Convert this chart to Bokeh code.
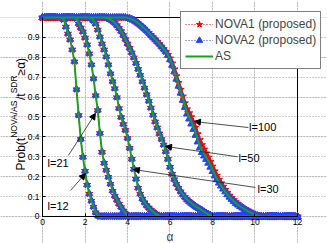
import numpy as np
from bokeh.plotting import figure
from bokeh.models import (ColumnDataSource, Legend, LegendItem, Label, Arrow,
                          NormalHead, FixedTicker, Range1d, LinearAxis,
                          BoxAnnotation, Grid)
from bokeh.embed import file_html
from bokeh.resources import INLINE

# ---------------- data ----------------
# alpha grid: 0 .. 12, step 0.1 (121 points)
alpha = np.round(np.arange(121) * 0.1, 1)
x_ticks = [0, 2, 4, 6, 8, 10, 12]
y_ticks = [0, 0.1, 0.2, 0.3, 0.4, 0.5, 0.6, 0.7, 0.8, 0.9]

# each curve: value 1 before its start alpha, the listed values, then 0
start_l12 = 1.0
as_l12 = [0.99, 0.955, 0.92, 0.89, 0.84, 0.78, 0.64, 0.51, 0.39, 0.30, 0.23,
          0.16, 0.115, 0.08, 0.05, 0.022, 0.006]

start_l21 = 1.6
as_l21 = [0.995, 0.97, 0.95, 0.93, 0.90, 0.865, 0.82, 0.765, 0.695, 0.61,
          0.535, 0.42, 0.325, 0.27, 0.235, 0.20, 0.165, 0.13, 0.105, 0.085,
          0.065, 0.048, 0.031, 0.016, 0.006]

start_l30 = 2.3
as_l30 = [0.995, 0.985, 0.97, 0.94, 0.905, 0.87, 0.84, 0.805, 0.765, 0.72,
          0.68, 0.645, 0.60, 0.545, 0.50, 0.465, 0.435, 0.395, 0.345, 0.29,
          0.24, 0.19, 0.145, 0.115, 0.09, 0.072, 0.057, 0.045, 0.034, 0.024,
          0.015, 0.008, 0.003]

start_l50 = 3.0
as_l50 = [0.998, 0.995, 0.99, 0.983, 0.974, 0.962, 0.948, 0.932, 0.912, 0.892,
          0.87, 0.848, 0.825, 0.80, 0.772, 0.742, 0.712, 0.68, 0.648, 0.615,
          0.582, 0.548, 0.512, 0.478, 0.448, 0.418, 0.39, 0.362, 0.328, 0.29,
          0.25, 0.215, 0.188, 0.165, 0.145, 0.127, 0.112, 0.098, 0.086, 0.076,
          0.067, 0.059, 0.051, 0.044, 0.038, 0.031, 0.024, 0.017, 0.011, 0.006,
          0.002]

start_l100 = 4.0
as_l100 = [0.998, 0.995, 0.991, 0.986, 0.979, 0.971, 0.962, 0.953, 0.944, 0.934,
           0.923, 0.912, 0.901, 0.89, 0.879, 0.867, 0.855, 0.842, 0.829, 0.813,
           0.792, 0.765, 0.733, 0.698, 0.663, 0.628, 0.593, 0.558, 0.525, 0.50,
           0.478, 0.452, 0.422, 0.387, 0.356, 0.333, 0.315, 0.298, 0.279, 0.258,
           0.235, 0.212, 0.191, 0.172, 0.156, 0.14, 0.125, 0.111, 0.098, 0.087,
           0.077, 0.067, 0.059, 0.051, 0.044, 0.037, 0.031, 0.025, 0.019, 0.014,
           0.009, 0.005, 0.002, 0.0]
nova1_l100 = [0.998, 0.995, 0.991, 0.986, 0.979, 0.971, 0.962, 0.953, 0.944, 0.934,
              0.923, 0.912, 0.901, 0.89, 0.879, 0.867, 0.855, 0.842, 0.829, 0.813,
              0.795, 0.77, 0.74, 0.706, 0.672, 0.638, 0.604, 0.57, 0.54, 0.52,
              0.50, 0.475, 0.448, 0.415, 0.385, 0.36, 0.338, 0.318, 0.297, 0.275,
              0.252, 0.228, 0.206, 0.186, 0.168, 0.151, 0.135, 0.12, 0.106, 0.094,
              0.083, 0.072, 0.063, 0.055, 0.047, 0.04, 0.033, 0.027, 0.021, 0.015,
              0.01, 0.006, 0.003, 0.0]
nova2_l100 = [0.998, 0.995, 0.991, 0.986, 0.979, 0.971, 0.962, 0.953, 0.944, 0.934,
              0.923, 0.912, 0.901, 0.89, 0.879, 0.867, 0.855, 0.842, 0.829, 0.81,
              0.788, 0.76, 0.727, 0.69, 0.655, 0.62, 0.584, 0.548, 0.515, 0.49,
              0.465, 0.438, 0.408, 0.375, 0.345, 0.322, 0.304, 0.287, 0.268, 0.248,
              0.226, 0.204, 0.185, 0.168, 0.153, 0.138, 0.124, 0.11, 0.097, 0.086,
              0.076, 0.066, 0.058, 0.05, 0.043, 0.036, 0.03, 0.024, 0.018, 0.013,
              0.008, 0.004, 0.001, 0.0]

curves = {
    "l=12": (start_l12, as_l12, as_l12, as_l12),
    "l=21": (start_l21, as_l21, as_l21, as_l21),
    "l=30": (start_l30, as_l30, as_l30, as_l30),
    "l=50": (start_l50, as_l50, as_l50, as_l50),
    "l=100": (start_l100, nova1_l100, nova2_l100, as_l100),
}
series_names = ["NOVA1 (proposed)", "NOVA2 (proposed)", "AS"]


def full_curve(start, vals):
    i0 = int(round(start * 10))
    return [1.0] * i0 + list(vals) + [0.0] * (len(alpha) - i0 - len(vals))


def series_source(k):
    xs, ys = [], []
    for key, c in curves.items():
        xs += list(alpha) + [np.nan]
        ys += full_curve(c[0], c[k + 1]) + [np.nan]
    return ColumnDataSource(dict(x=xs, y=ys))


# ---------------- figure ----------------
# The frame covers the whole canvas so that markers, legend and the
# composite y label are not clipped; the axes sit at x=0 / y=0.
FONT = "Liberation Sans"
W, H = 327, 243
p = figure(width=W, height=H, output_backend="svg", toolbar_location=None,
           x_range=Range1d(-1.9765, 13.4118), y_range=Range1d(-0.1357, 1.0854),
           x_axis_location=None, y_axis_location=None,
           min_border=0, min_border_left=0, min_border_right=0,
           min_border_top=0, min_border_bottom=0)
p.background_fill_color = "white"
p.border_fill_color = "white"
p.outline_line_color = None

xax = LinearAxis(fixed_location=0, bounds=(0, 12), ticker=FixedTicker(ticks=x_ticks))
yax = LinearAxis(fixed_location=0, bounds=(0, 1), ticker=FixedTicker(ticks=y_ticks))
for ax in (xax, yax):
    ax.major_tick_in = 3
    ax.major_tick_out = 0
    ax.minor_tick_line_color = None
    ax.axis_line_color = "black"
    ax.major_tick_line_color = "black"
    ax.major_label_text_font = FONT
    ax.major_label_text_font_size = "8.5px"
    ax.major_label_text_color = "black"
    ax.major_label_standoff = 3
xax.axis_label = "α"
xax.axis_label_text_font = FONT
xax.axis_label_text_font_size = "12px"
xax.axis_label_text_font_style = "normal"
xax.axis_label_standoff = 1
p.add_layout(xax, "below")
p.add_layout(yax, "left")

# grid restricted to the axes box
xgrid = Grid(dimension=0, ticker=FixedTicker(ticks=x_ticks), bounds=(0, 1))
ygrid = Grid(dimension=1, ticker=FixedTicker(ticks=y_ticks), bounds=(0, 12))
for g in (xgrid, ygrid):
    g.grid_line_color = "#9a9a9a"
    g.grid_line_dash = "1 2"
    g.grid_line_width = 1
    p.add_layout(g)

# axes box
p.add_layout(BoxAnnotation(left=0, right=12, bottom=0, top=1, fill_alpha=0,
                           line_color="black", line_width=1, line_alpha=1,
                           level="underlay"))

red = "#ff0000"
blue = "#2244ff"
green = "#1ca01c"

s1 = series_source(0)
s2 = series_source(1)
s3 = series_source(2)
l1 = p.line("x", "y", source=s1, line_color=red, line_dash="1 2", line_width=1)
m1 = p.scatter("x", "y", source=s1, marker="star", size=7.5, fill_color=red,
               line_color=red)
l2 = p.line("x", "y", source=s2, line_color=blue, line_dash="1 2", line_width=1)
m2 = p.scatter("x", "y", source=s2, marker="triangle", size=7,
               fill_color=blue, line_color=blue)
l3 = p.line("x", "y", source=s3, line_color=green, line_width=2)

legend = Legend(items=[
    LegendItem(label=series_names[0], renderers=[l1, m1]),
    LegendItem(label=series_names[1], renderers=[l2, m2]),
    LegendItem(label=series_names[2], renderers=[l3]),
], location=(180, 174))
legend.border_line_color = "black"
legend.border_line_width = 1
legend.background_fill_color = "white"
legend.background_fill_alpha = 1.0
legend.padding = 4
legend.spacing = 0
legend.margin = 0
legend.label_text_font = FONT
legend.label_text_font_size = "12px"
legend.glyph_width = 28
legend.glyph_height = 16
legend.label_height = 16
legend.label_standoff = 2
p.add_layout(legend)

# arrows with labels (data coordinates)
arrows = [
    ("l=12", (1.32, 0.131), (2.02, 0.216), (0.24, 0.055)),
    ("l=21", (1.22, 0.307), (2.49, 0.518), (0.24, 0.271)),
    ("l=30", (10.02, 0.146), (4.28, 0.236), (10.12, 0.136)),
    ("l=50", (9.18, 0.30), (5.79, 0.352), (9.22, 0.296)),
    ("l=100", (9.69, 0.447), (7.15, 0.477), (9.72, 0.452)),
]
for txt, (xs_, ys_), (xe, ye), (tx, ty) in arrows:
    p.add_layout(Arrow(x_start=xs_, y_start=ys_, x_end=xe, y_end=ye,
                       line_color="#222222", line_width=0.8,
                       end=NormalHead(size=6, fill_color="black",
                                      line_color="black")))
    p.add_layout(Label(x=tx, y=ty, text=txt, text_font=FONT,
                       text_font_size="11px", text_baseline="middle",
                       text_align="left", text_color="black"))

# y-axis label built from rotated pieces (screen units from canvas bottom-left)
ylabel_parts = [
    ("Prob(t", 20, 73, "12px"),
    ("NOVA/AS", 13, 105.7, "8.5px"),
    ("/t", 20, 143.5, "12px"),
    ("SDR", 13, 150.2, "8.5px"),
    ("≥α)", 20, 168.1, "12px"),
]
for txt, xx, yy, fs in ylabel_parts:
    p.add_layout(Label(x=xx, y=yy, x_units="screen", y_units="screen",
                       text=txt, angle=np.pi / 2, text_font=FONT,
                       text_font_size=fs, text_align="left",
                       text_baseline="middle", text_color="black"))

open("out.html", "w").write(file_html(p, INLINE))
